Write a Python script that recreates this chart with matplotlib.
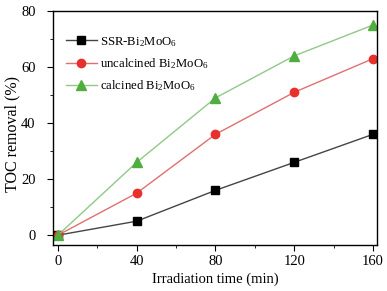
import matplotlib
matplotlib.use("Agg")
import matplotlib.pyplot as plt
from matplotlib.ticker import MultipleLocator

plt.rcParams["font.family"] = ["Liberation Serif", "DejaVu Serif"]
plt.rcParams["mathtext.fontset"] = "custom"
plt.rcParams["mathtext.rm"] = "Liberation Serif"
plt.rcParams["mathtext.it"] = "Liberation Serif:italic"

time_min = [0, 40, 80, 120, 160]
ssr = [0, 5, 16, 26, 36]
uncalcined = [0, 15, 36, 51, 63]
calcined = [0, 26, 49, 64, 75]

labels = [r"SSR-Bi$_2$MoO$_6$", r"uncalcined Bi$_2$MoO$_6$", r"calcined Bi$_2$MoO$_6$"]

fig = plt.figure(figsize=(3.87, 2.91), dpi=100)
ax = fig.add_axes([53 / 387, 1 - 245 / 291, (377 - 53) / 387, (245 - 11) / 291])

ax.plot(time_min, ssr, color="#444444", lw=1.0, marker="s", ms=5.5,
        mfc="black", mec="black", label=labels[0])
ax.plot(time_min, uncalcined, color="#e07070", lw=1.0, marker="o", ms=6,
        mfc="#e8302c", mec="#e8302c", label=labels[1])
ax.plot(time_min, calcined, color="#8fc987", lw=1.0, marker="^", ms=6.5,
        mfc="#4fae3f", mec="#4fae3f", label=labels[2])

ax.set_xlim(-2.5, 162)
ax.set_ylim(-3.5, 80)
ax.xaxis.set_major_locator(MultipleLocator(40))
ax.xaxis.set_minor_locator(MultipleLocator(20))
ax.yaxis.set_major_locator(MultipleLocator(20))
ax.yaxis.set_minor_locator(MultipleLocator(10))
ax.tick_params(which="both", direction="out", top=False, right=False, labelsize=10.5)
ax.tick_params(which="major", length=4)
ax.tick_params(which="minor", length=2.5)
ax.tick_params(axis="y", which="major", pad=8.5)
ax.tick_params(axis="x", which="major", pad=3.5)
for s in ax.spines.values():
    s.set_linewidth(1.0)

ax.set_xlabel("Irradiation time (min)", fontsize=10.5)
ax.set_ylabel("TOC removal (%)", fontsize=11.5)
ax.xaxis.set_label_coords(0.5, -0.118)
ax.yaxis.set_label_coords(-0.10, 0.474)

ax.legend(loc="upper left", frameon=False, fontsize=9.2, handlelength=2.4,
          bbox_to_anchor=(0.005, 0.947), labelspacing=0.58, handletextpad=0.25)

fig.savefig("out.png", dpi=100)
